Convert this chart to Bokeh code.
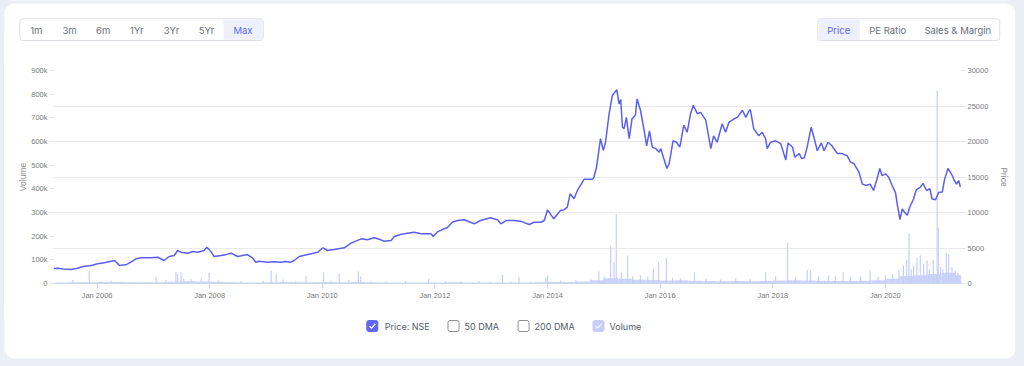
from datetime import datetime, timedelta
from bokeh.plotting import figure
from bokeh.layouts import column, row
from bokeh.models import Range1d, LinearAxis, FixedTicker, DatetimeTickFormatter, Spacer
from bokeh.core.properties import value
from bokeh.embed import file_html
from bokeh.resources import INLINE

# ---------------- data ----------------
price_year = [
    2005.225, 2005.30, 2005.40, 2005.54, 2005.65, 2005.77, 2005.88, 2006.01, 2006.15, 2006.31,
    2006.40, 2006.51, 2006.60, 2006.69, 2006.78, 2006.96, 2007.08, 2007.19, 2007.28, 2007.37,
    2007.43, 2007.49, 2007.61, 2007.70, 2007.79, 2007.90, 2007.95, 2007.99, 2008.05, 2008.08,
    2008.20, 2008.30, 2008.38, 2008.50, 2008.67, 2008.76, 2008.82, 2008.88, 2009.03, 2009.15,
    2009.27, 2009.35, 2009.44, 2009.50, 2009.59, 2009.74, 2009.92, 2010.01, 2010.09, 2010.21,
    2010.39, 2010.51, 2010.69, 2010.80, 2010.92, 2011.04, 2011.10, 2011.22, 2011.28, 2011.39,
    2011.51, 2011.63, 2011.75, 2011.93, 2011.97, 2012.04, 2012.16, 2012.22, 2012.31, 2012.40,
    2012.52, 2012.70, 2012.81, 2012.99, 2013.11, 2013.17, 2013.26, 2013.41, 2013.52, 2013.67,
    2013.76, 2013.88, 2013.94, 2014.00, 2014.11, 2014.23, 2014.29, 2014.35, 2014.40, 2014.47,
    2014.53, 2014.65, 2014.80, 2014.82, 2014.87, 2014.94, 2014.99, 2015.03, 2015.09, 2015.15,
    2015.17, 2015.23, 2015.27, 2015.30, 2015.33, 2015.36, 2015.40, 2015.45, 2015.50, 2015.56,
    2015.59, 2015.65, 2015.71, 2015.76, 2015.81, 2015.86, 2015.92, 2015.98, 2016.01, 2016.12,
    2016.16, 2016.23, 2016.29, 2016.35, 2016.42, 2016.48, 2016.54, 2016.59, 2016.66, 2016.72,
    2016.81, 2016.90, 2016.95, 2017.01, 2017.10, 2017.16, 2017.22, 2017.31, 2017.37, 2017.46,
    2017.52, 2017.58, 2017.60, 2017.66, 2017.75, 2017.81, 2017.87, 2017.90, 2017.96, 2018.05,
    2018.14, 2018.23, 2018.27, 2018.35, 2018.39, 2018.47, 2018.51, 2018.56, 2018.61, 2018.68,
    2018.73, 2018.79, 2018.86, 2018.91, 2018.98, 2019.05, 2019.11, 2019.15, 2019.23, 2019.32,
    2019.38, 2019.44, 2019.53, 2019.59, 2019.66, 2019.73, 2019.79, 2019.85, 2019.90, 2019.94,
    2020.00, 2020.06, 2020.12, 2020.18, 2020.21, 2020.26, 2020.30, 2020.34, 2020.39, 2020.43,
    2020.50, 2020.55, 2020.62, 2020.67, 2020.73, 2020.79, 2020.83, 2020.89, 2020.95, 2021.01,
    2021.05, 2021.11, 2021.17, 2021.21, 2021.26, 2021.30, 2021.33,
]
price_value = [
    2100, 2150, 2050, 1970, 2150, 2440, 2500, 2770, 2950, 3240,
    2540, 2630, 3000, 3480, 3620, 3620, 3700, 3240, 3800, 3940,
    4650, 4410, 4270, 4500, 4410, 4650, 5100, 4800, 4180, 3800,
    3940, 4100, 4270, 3800, 4080, 3620, 3000, 3140, 3000, 3050,
    3000, 3100, 3000, 3240, 3800, 4080, 4400, 5030, 4650, 4790,
    5030, 5680, 6290, 6150, 6440, 6150, 5960, 6060, 6620, 6900,
    7090, 7230, 7000, 7000, 6620, 7230, 7700, 7840, 8630, 8870,
    8970, 8410, 8870, 9250, 8970, 8410, 8870, 8870, 8780, 8310,
    8630, 8630, 8870, 10380, 9110, 10280, 10380, 10750, 12630, 11930,
    13100, 14700, 14700, 14900, 16400, 20400, 18750, 19900, 23700, 26500,
    26700, 27300, 25300, 25900, 22000, 21800, 23400, 20400, 23200, 23700,
    26000, 24400, 21800, 19400, 21500, 19200, 19000, 18500, 19000, 16200,
    16860, 20100, 19900, 19200, 22300, 21300, 23900, 25100, 23900, 24100,
    23000, 19000, 20800, 19900, 22500, 21300, 22700, 23200, 23400, 24400,
    23400, 24370, 24500, 21800, 20800, 21300, 20400, 19000, 19900, 20100,
    19700, 17400, 19800, 19200, 17800, 18300, 17600, 17700, 19200, 22000,
    20600, 18700, 19800, 18700, 19900, 19400, 18700, 18300, 18300, 18000,
    17100, 16900, 15700, 14000, 13800, 14000, 13100, 14700, 16200, 15200,
    15450, 14970, 13800, 12800, 11200, 9000, 10500, 10040, 9600, 10700,
    11900, 13200, 13560, 14100, 13100, 13340, 11900, 11800, 12860, 12900,
    14700, 16200, 15450, 14750, 14000, 14500, 13600,
]

# quarterly typical volume (thousands)
vol_base_year = [
    2005.25, 2005.5, 2005.75, 2006.0, 2006.25, 2006.5, 2006.75, 2007.0, 2007.25, 2007.5,
    2007.75, 2008.0, 2008.25, 2008.5, 2008.75, 2009.0, 2009.25, 2009.5, 2009.75, 2010.0,
    2010.25, 2010.5, 2010.75, 2011.0, 2011.25, 2011.5, 2011.75, 2012.0, 2012.25, 2012.5,
    2012.75, 2013.0, 2013.25, 2013.5, 2013.75, 2014.0, 2014.25, 2014.5, 2014.75, 2015.0,
    2015.25, 2015.5, 2015.75, 2016.0, 2016.25, 2016.5, 2016.75, 2017.0, 2017.25, 2017.5,
    2017.75, 2018.0, 2018.25, 2018.5, 2018.75, 2019.0, 2019.25, 2019.5, 2019.75, 2020.0,
    2020.25, 2020.5, 2020.75, 2021.0, 2021.25,
]
vol_base_k = [
    4, 5, 5, 6, 6, 5, 5, 5, 7, 9,
    8, 7, 5, 4, 4, 5, 6, 5, 5, 6,
    5, 6, 5, 4, 4, 4, 4, 4, 5, 4,
    4, 4, 4, 4, 5, 6, 6, 8, 14, 22,
    20, 16, 15, 13, 14, 12, 11, 10, 11, 10,
    11, 13, 14, 13, 12, 11, 11, 12, 14, 20,
    32, 35, 40, 45, 35,
]
# individual high-volume days (thousands)
vol_spike_year = [
    2005.57, 2005.86, 2006.07, 2006.25, 2006.43, 2007.05, 2007.22, 2007.40, 2007.43, 2007.49,
    2007.54, 2007.67, 2007.85, 2007.99, 2008.16, 2008.56, 2008.95, 2009.09, 2009.18, 2009.30,
    2009.53, 2009.71, 2010.02, 2010.15, 2010.30, 2010.47, 2010.64, 2010.68, 2010.86, 2011.13,
    2011.48, 2011.89, 2012.19, 2012.46, 2012.78, 2012.99, 2013.20, 2013.35, 2013.49, 2013.70,
    2013.97, 2014.00, 2014.23, 2014.50, 2014.77, 2014.91, 2015.00, 2015.12, 2015.18, 2015.22,
    2015.31, 2015.42, 2015.51, 2015.65, 2015.78, 2015.88, 2015.97, 2016.11, 2016.22, 2016.36,
    2016.61, 2016.81, 2017.07, 2017.34, 2017.60, 2017.87, 2018.05, 2018.26, 2018.40, 2018.61,
    2018.67, 2018.81, 2018.99, 2019.11, 2019.25, 2019.38, 2019.56, 2019.73, 2019.87, 2020.00,
    2020.13, 2020.24, 2020.32, 2020.38, 2020.42, 2020.46, 2020.50, 2020.56, 2020.62, 2020.68,
    2020.74, 2020.78, 2020.85, 2020.92, 2020.94, 2020.98, 2021.02, 2021.08, 2021.12, 2021.18,
    2021.24, 2021.29,
]
vol_spike_k = [
    15, 55, 10, 12, 8, 27, 15, 50, 40, 48,
    20, 18, 22, 44, 12, 10, 12, 54, 40, 18,
    10, 32, 48, 12, 41, 15, 52, 30, 10, 10,
    12, 20, 10, 10, 12, 8, 38, 8, 26, 8,
    25, 34, 12, 14, 18, 52, 30, 160, 90, 294,
    48, 118, 30, 35, 28, 62, 90, 108, 25, 22,
    48, 20, 18, 22, 20, 48, 30, 172, 28, 58,
    56, 30, 35, 30, 48, 25, 30, 55, 28, 35,
    40, 58, 76, 100, 210, 60, 76, 108, 118, 83,
    97, 60, 100, 815, 238, 70, 60, 130, 125, 69,
    55, 45,
]

vol_ticks = [0, 100, 200, 300, 400, 500, 600, 700, 800, 900]
vol_tick_labels = ["0", "100k", "200k", "300k", "400k", "500k", "600k", "700k", "800k", "900k"]
price_ticks = [0, 5000, 10000, 15000, 20000, 25000, 30000]
x_tick_years = [2006, 2008, 2010, 2012, 2014, 2016, 2018, 2020]

range_buttons = ["1m", "3m", "6m", "1Yr", "3Yr", "5Yr", "Max"]
view_buttons = ["Price", "PE Ratio", "Sales & Margin"]
legend_items = ["Price: NSE", "50 DMA", "200 DMA", "Volume"]

# ---------------- helpers / styles ----------------
EPOCH = datetime(1970, 1, 1)


def ydt(y):
    yr = int(y)
    return datetime(yr, 1, 1) + timedelta(days=(y - yr) * 365.25)


def ms(d):
    return (d - EPOCH).total_seconds() * 1000.0


PAGE = "#eceef5"
LINE = "#5b5ff0"
VOL = "#c6cff9"
ACCENT = "#6366f1"
BTN_TEXT = "#6b6f78"
AXIS_FONT = "Liberation Sans"
UI_FONT = "Inter"
CARD_L, CARD_R = 4, 1015      # card edges (page px)
W = CARD_R - CARD_L


def panel(top_px, bottom_px):
    f = figure(width=W, height=bottom_px - top_px,
               x_range=Range1d(CARD_L, CARD_R), y_range=Range1d(bottom_px, top_px),
               output_backend="svg", toolbar_location=None, min_border=0,
               x_axis_location=None, y_axis_location=None, frame_align=False,
               background_fill_color=PAGE, border_fill_color="white", outline_line_color=None)
    f.grid.visible = False
    return f


# ---------------- top controls ----------------
top = panel(0, 60)
top.quad(left=[CARD_L - 5], right=[CARD_R + 5], top=[30], bottom=[120], fill_color="white",
         line_color=None)
top.quad(left=[CARD_L], right=[CARD_R], top=[3], bottom=[120], fill_color="white",
         line_color=None, border_radius=10)
top.quad(left=[19.3], right=[262.7], top=[18.3], bottom=[40], fill_color="white",
         line_color="#dcdfe7", line_width=1, border_radius=3)
top.quad(left=[223], right=[262], top=[19], bottom=[39.3], fill_color="#eef0fd", line_color=None)
top.text(x=[35.8, 69, 102.7, 136.3, 171, 206, 242.5], y=[29.5] * 7, text=range_buttons,
         text_align="center", text_baseline="middle", text_font=value(UI_FONT),
         text_font_size="9.5px", text_color=[BTN_TEXT] * 6 + [ACCENT])
top.quad(left=[817.3], right=[999.3], top=[18.3], bottom=[40], fill_color="white",
         line_color="#dcdfe7", line_width=1, border_radius=3)
top.quad(left=[818], right=[859.3], top=[19], bottom=[39.3], fill_color="#eef0fd", line_color=None)
top.text(x=[838.3, 887.2, 957.3], y=[29.5] * 3, text=view_buttons,
         text_align="center", text_baseline="middle", text_font=value(UI_FONT),
         text_font_size="9.5px", text_color=[ACCENT, BTN_TEXT, BTN_TEXT])

# ---------------- main chart ----------------
p = figure(width=W, height=245, x_axis_type="datetime",
           x_range=Range1d(ydt(2005.225), ydt(2021.35)), y_range=Range1d(0, vol_ticks[-1]),
           output_backend="svg", toolbar_location=None, frame_align=False,
           min_border_left=53 - CARD_L, min_border_right=CARD_R - 961,
           min_border_top=10, min_border_bottom=22,
           background_fill_color="white", border_fill_color="white", outline_line_color=None)
p.extra_y_ranges = {"price": Range1d(0, price_ticks[-1])}

p.xgrid.visible = False
p.ygrid.ticker = FixedTicker(ticks=[t * vol_ticks[-1] / price_ticks[-1] for t in price_ticks])
p.ygrid.grid_line_color = "#e9e9ee"

# volume
p.vbar(x=[ydt(y + 0.125) for y in vol_base_year], top=vol_base_k, width=91 * 86400000,
       fill_color=VOL, line_color=None, fill_alpha=0.9)
xs = [ydt(y) for y in vol_spike_year]
p.segment(x0=xs, y0=[0] * len(xs), x1=xs, y1=vol_spike_k, line_color=VOL, line_width=1.2)

# price
p.line(x=[ydt(y) for y in price_year], y=price_value, y_range_name="price",
       line_color=LINE, line_width=1.5)

# axes
xa = p.xaxis[0]
xa.ticker = FixedTicker(ticks=[ms(datetime(y, 1, 1)) for y in x_tick_years])
xa.formatter = DatetimeTickFormatter(years="%b %Y", months="%b %Y", days="%b %Y")
xa.axis_line_color = "#ccd6eb"
xa.major_tick_line_color = "#ccd6eb"
xa.major_tick_out = 5
xa.major_tick_in = 0
xa.minor_tick_line_color = None
xa.major_label_standoff = 2

ya = p.yaxis[0]
ya.ticker = FixedTicker(ticks=vol_ticks)
ya.major_label_overrides = {t: l for t, l in zip(vol_ticks, vol_tick_labels)}
ya.axis_label = "Volume"
ya.axis_line_color = None
ya.axis_label_standoff = 0

ra = LinearAxis(y_range_name="price", ticker=FixedTicker(ticks=price_ticks), axis_label="Price")
ra.axis_line_color = None
ra.axis_label_standoff = 8
p.add_layout(ra, "right")

for ax in (ya, ra):
    ax.major_tick_line_color = "#e3e3e8"
    ax.major_tick_out = 4
    ax.major_tick_in = 0
    ax.minor_tick_line_color = None
    ax.major_label_standoff = 2
for ax in (xa, ya, ra):
    ax.major_label_text_font = AXIS_FONT
    ax.major_label_text_font_size = "7.5px"
    ax.major_label_text_color = "#7a7a7a"
    ax.axis_label_text_font = AXIS_FONT
    ax.axis_label_text_font_size = "8.5px"
    ax.axis_label_text_font_style = "normal"
    ax.axis_label_text_color = "#8f8f8f"

# ---------------- legend ----------------
leg = panel(305, 362)
leg.quad(left=[CARD_L - 5], right=[CARD_R + 5], top=[240], bottom=[320], fill_color="white",
         line_color=None)
leg.quad(left=[CARD_L], right=[CARD_R], top=[240], bottom=[358], fill_color="white",
         line_color=None, border_radius=10)
box_cx = [371.8, 453, 523, 598]
leg.quad(left=[c - 5.5 for c in box_cx], right=[c + 5.5 for c in box_cx],
         top=[320] * 4, bottom=[331] * 4,
         fill_color=[ACCENT, "white", "white", "#c9cef9"],
         line_color=[ACCENT, "#8e8f99", "#8e8f99", "#c9cef9"], line_width=1, border_radius=2)
leg.multi_line(xs=[[c - 2.8, c - 0.7, c + 3] for c in (box_cx[0], box_cx[3])],
               ys=[[325.6, 327.7, 323.4]] * 2, line_color=["white", "#f2f3ff"], line_width=1.3)
leg.text(x=[384.3, 464, 534, 609], y=[325.8] * 4, text=legend_items,
         text_align="left", text_baseline="middle", text_font=value(UI_FONT),
         text_font_size="9px", text_color="#555a64")

card = column(top, p, leg, spacing=0, styles={"background-color": "white", "border-radius": "10px"})
layout = row(Spacer(width=CARD_L, height=10), card, spacing=0)
html = file_html(layout, INLINE)
html = html.replace("</head>", "<style>html,body{background-color:%s;}</style></head>" % PAGE, 1)
open("out.html", "w").write(html)
